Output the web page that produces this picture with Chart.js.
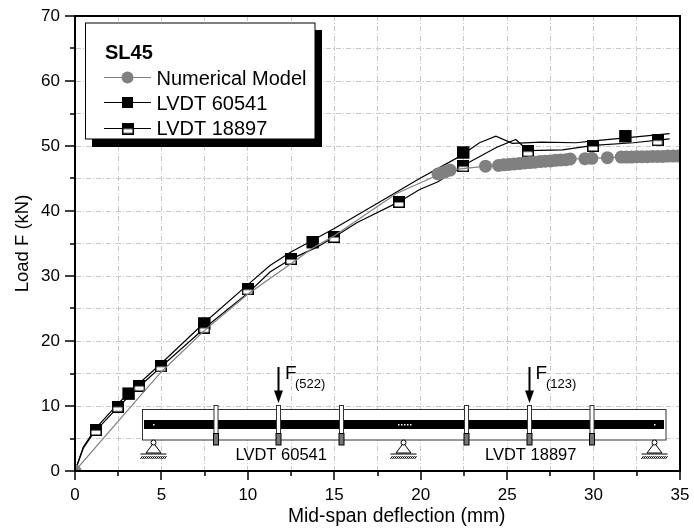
<!DOCTYPE html>
<html>
<head>
<meta charset="utf-8">
<title>SL45</title>
<script src="https://cdn.jsdelivr.net/npm/chart.js@4"></script>
<style>
    html, body { margin: 0; padding: 0; background: #fff; }
    canvas { display: block; }
</style>
</head>
<body>
<canvas id="chart" width="694" height="531"></canvas>
<script>
"use strict";
// Values
var numericalX = [0, 4.97, 7.48, 9.99, 12.49, 13.76, 15, 18.6, 20.7, 21, 21.2, 21.4, 21.7,
    23.75, 24.5, 24.8, 25.1, 25.4, 25.7, 26, 26.3, 26.6, 26.9, 27.2, 27.5, 27.8, 28.1, 28.4, 28.65,
    29.5, 29.9, 30.8, 31.6, 31.9, 32.2, 32.5, 32.8, 33.1, 33.4, 33.7, 34, 34.3, 34.6, 34.9];
var numericalY = [0, 15.2, 21.6, 27.2, 31.9, 34.3, 36.2, 42.7, 45.2, 45.7, 45.85, 46, 46.3,
    46.9, 47, 47.1, 47.15, 47.25, 47.3, 47.4, 47.45, 47.5, 47.6, 47.65, 47.7, 47.8, 47.85, 47.9, 48,
    48.05, 48.1, 48.2, 48.3, 48.3, 48.3, 48.35, 48.35, 48.35, 48.4, 48.4, 48.4, 48.45, 48.45, 48.45];

var upperLineX = [0, 0.48, 0.91, 1.21, 2.47, 3.1, 3.72, 4.97, 7.48, 10.1, 11.28, 12.49, 13.75, 15, 17.45, 19.94, 22.26, 23.4, 24.35, 25.3, 27, 29, 30, 32, 34.4];
var upperLineY = [0, 3.7, 5.4, 6.6, 10.3, 12, 13.5, 16.5, 22.8, 28.9, 31.6, 33.7, 35.5, 37.3, 41.1, 45, 48.4, 50.5, 51.5, 50.4, 50.6, 50.5, 50.8, 51.3, 51.9];
var lowerLineX = [0, 0.48, 0.91, 1.21, 2.47, 3.72, 4.97, 7.5, 10.1, 11.28, 12.49, 13.97, 15, 16.3, 18.74, 19.94, 21, 22.46, 24.4, 25.5, 26.2, 28.2, 30, 32.3, 34.4];
var lowerLineY = [0, 3.5, 5.2, 6.2, 9.8, 13, 16, 22, 27.6, 30.6, 32.6, 34.4, 36, 38.2, 41.4, 43.3, 44.5, 47, 49.8, 51, 49.3, 49.4, 50.1, 50.5, 51.1];

var filledX = [3.1, 7.48, 13.75, 22.46, 31.84];
var filledY = [11.9, 22.7, 35.2, 49, 51.5];
var halfX = [1.21, 2.47, 3.72, 4.97, 7.48, 9.99, 12.49, 15, 18.74, 22.46, 26.2, 29.97, 33.7];
var halfY = [6.3, 9.9, 13.1, 16.1, 22.05, 27.95, 32.6, 36, 41.4, 46.9, 49.2, 50, 50.9];

var legendTitle = "SL45";
var seriesNames = ["Numerical Model", "LVDT 60541", "LVDT 18897"];

var grey = "#808080";
var fontName = "'Liberation Sans', Arial, sans-serif";

function toPoints(xs, ys) {
    return xs.map(function (x, i) { return { x: x, y: ys[i] }; });
}

// half black / half white square marker
function halfSquare(size) {
    var c = document.createElement("canvas");
    c.width = size;
    c.height = size;
    var g = c.getContext("2d");
    g.fillStyle = "#000";
    g.fillRect(0, 0, size, size);
    g.fillStyle = "#fff";
    g.fillRect(1.5, size / 2 + 0.5, size - 3, size / 2 - 2);
    return c;
}
var halfMarker = halfSquare(12);

function text(ctx, str, x, y, font) {
    ctx.font = font;
    ctx.fillStyle = "#000";
    ctx.textAlign = "left";
    ctx.textBaseline = "alphabetic";
    ctx.fillText(str, x, y);
}

function drawTicks(ctx, chart) {
    var xs = chart.scales.x, ys = chart.scales.y, a = chart.chartArea;
    ctx.strokeStyle = "#000";
    ctx.lineWidth = 1.5;
    ctx.beginPath();
    xs.ticks.forEach(function (t) {
        var p = Math.round(xs.getPixelForValue(t.value));
        ctx.moveTo(p, a.bottom);
        ctx.lineTo(p, a.bottom + (t.value % 5 === 0 ? 9 : 5));
    });
    ys.ticks.forEach(function (t) {
        var p = Math.round(ys.getPixelForValue(t.value));
        ctx.moveTo(a.left, p);
        ctx.lineTo(a.left - (t.value % 10 === 0 ? 10 : 5), p);
    });
    ctx.stroke();
    // frame, top and right too
    ctx.lineWidth = 2;
    ctx.strokeRect(a.left, a.top, a.right - a.left, a.bottom - a.top);
}

function drawLegend(ctx) {
    ctx.fillStyle = "#000";
    ctx.fillRect(92, 30, 230, 117);
    ctx.fillStyle = "#fff";
    ctx.fillRect(85.5, 23, 229.5, 116);
    ctx.strokeStyle = "#000";
    ctx.lineWidth = 1;
    ctx.strokeRect(85.5, 23, 229.5, 116);
    text(ctx, legendTitle, 105, 59, "bold 20px " + fontName);
    var rowY = [77.5, 102.5, 128.5], baseY = [85, 110, 135];
    seriesNames.forEach(function (name, i) {
        ctx.strokeStyle = i === 0 ? grey : "#000";
        ctx.lineWidth = 1;
        ctx.beginPath();
        ctx.moveTo(104, rowY[i]);
        ctx.lineTo(151, rowY[i]);
        ctx.stroke();
        if (i === 0) {
            ctx.fillStyle = grey;
            ctx.beginPath();
            ctx.arc(127.5, rowY[i], 6, 0, Math.PI * 2);
            ctx.fill();
        } else if (i === 1) {
            ctx.fillStyle = "#000";
            ctx.fillRect(122, rowY[i] - 5.5, 11, 11);
        } else {
            ctx.drawImage(halfMarker, 122, rowY[i] - 6);
        }
        text(ctx, name, 156.5, baseY[i], "20px " + fontName);
    });
}

function drawSupport(ctx, x) {
    ctx.strokeStyle = "#000";
    ctx.lineWidth = 1;
    ctx.fillStyle = "#fff";
    ctx.beginPath();
    ctx.moveTo(x, 443);
    ctx.lineTo(x - 7.5, 453);
    ctx.lineTo(x + 7.5, 453);
    ctx.closePath();
    ctx.stroke();
    ctx.beginPath();
    ctx.arc(x, 442.5, 2.5, 0, Math.PI * 2);
    ctx.fill();
    ctx.stroke();
    ctx.beginPath();
    ctx.moveTo(x - 13, 454);
    ctx.lineTo(x + 13, 454);
    for (var h = x - 13; h < x + 13; h += 2) {
        ctx.moveTo(h + 2, 456);
        ctx.lineTo(h, 459);
    }
    ctx.stroke();
}

function drawArrow(ctx, x) {
    ctx.fillStyle = "#000";
    ctx.fillRect(x - 1, 367, 2, 25);
    ctx.beginPath();
    ctx.moveTo(x - 4.5, 390.5);
    ctx.lineTo(x + 4.5, 390.5);
    ctx.lineTo(x, 403);
    ctx.closePath();
    ctx.fill();
}

function drawBeam(ctx) {
    ctx.fillStyle = "#fff";
    ctx.fillRect(142, 409, 524, 31);
    ctx.strokeStyle = "#333";
    ctx.lineWidth = 1;
    ctx.strokeRect(142.5, 409.5, 523.5, 30.5);
    ctx.fillStyle = "#000";
    ctx.fillRect(144, 420, 520, 9);
    ctx.fillStyle = "#fff";
    [153, 398, 401, 404, 407, 410, 654].forEach(function (x) {
        ctx.fillRect(x, 424, 1.5, 1.5);
    });
    [216, 278.5, 341.5, 466.5, 529.5, 592].forEach(function (x) {
        ctx.fillStyle = "#fff";
        ctx.strokeStyle = "#333";
        ctx.fillRect(x - 2, 405.5, 4, 28);
        ctx.strokeRect(x - 2, 405.5, 4, 28);
        ctx.fillStyle = "#777";
        ctx.strokeStyle = "#000";
        ctx.fillRect(x - 2.5, 433.5, 5, 11.5);
        ctx.strokeRect(x - 2.5, 433.5, 5, 11.5);
    });
    [153.5, 403.5, 654.5].forEach(function (x) { drawSupport(ctx, x); });
    drawArrow(ctx, 278.5);
    drawArrow(ctx, 529.5);
    text(ctx, "F", 285, 379, "19px " + fontName);
    text(ctx, "(522)", 295, 388, "13px " + fontName);
    text(ctx, "F", 535.5, 379, "19px " + fontName);
    text(ctx, "(123)", 546, 388, "13px " + fontName);
    text(ctx, "LVDT 60541", 235.5, 460, "16.5px " + fontName);
    text(ctx, "LVDT 18897", 485, 460, "16.5px " + fontName);
}

var decorations = {
    id: "decorations",
    afterDatasetsDraw: function (chart) {
        var ctx = chart.ctx;
        ctx.save();
        drawBeam(ctx);
        drawTicks(ctx, chart);
        drawLegend(ctx);
        text(ctx, "Mid-span deflection (mm)", 288, 522, "19.3px " + fontName);
        ctx.restore();
    }
};

new Chart(document.getElementById("chart").getContext("2d"), {
    type: "line",
    data: {
        datasets: [
            {
                label: seriesNames[0],
                data: toPoints(numericalX, numericalY),
                borderColor: grey,
                backgroundColor: grey,
                borderWidth: 1.2,
                pointBorderWidth: 0,
                pointRadius: function (c) {
                    var x = c.parsed.x;
                    return x === 0 || x >= 21 ? 6.5 : 0;
                },
                order: 1
            },
            {
                label: seriesNames[2],
                data: toPoints(halfX, halfY),
                showLine: false,
                pointStyle: halfMarker,
                order: 2
            },
            {
                label: seriesNames[1],
                data: toPoints(filledX, filledY),
                showLine: false,
                backgroundColor: "#000",
                pointBorderWidth: 0,
                pointStyle: "rect",
                pointRadius: 8.8,
                order: 3
            },
            {
                label: seriesNames[1] + " curve",
                data: toPoints(upperLineX, upperLineY),
                borderColor: "#000",
                borderWidth: 1.2,
                pointRadius: 0,
                order: 4
            },
            {
                label: seriesNames[2] + " curve",
                data: toPoints(lowerLineX, lowerLineY),
                borderColor: "#000",
                borderWidth: 1.2,
                pointRadius: 0,
                order: 5
            }
        ]
    },
    options: {
        responsive: false,
        animation: false,
        layout: { padding: { top: 16, right: 14, left: 0, bottom: 0 } },
        plugins: { legend: { display: false }, tooltip: { enabled: false } },
        scales: {
            x: {
                type: "linear",
                min: 0,
                max: 35,
                afterFit: function (s) {
                    s.height = 60;
                    s.paddingLeft = 0;
                    s.paddingRight = 0;
                },
                border: { color: "#000", width: 2, dash: [5, 2, 1, 2] },
                grid: { color: "#c8c8c8", lineWidth: 1, drawTicks: false },
                ticks: {
                    stepSize: 2.5,
                    autoSkip: false,
                    maxRotation: 0,
                    padding: 14,
                    color: "#000",
                    font: { family: fontName, size: 17 },
                    callback: function (v) { return v % 5 === 0 ? String(v) : ""; }
                }
            },
            y: {
                type: "linear",
                min: 0,
                max: 70,
                afterFit: function (s) {
                    s.width = 75;
                    s.paddingTop = 0;
                    s.paddingBottom = 0;
                },
                border: { color: "#000", width: 2, dash: [5, 2, 1, 2] },
                grid: { color: "#c8c8c8", lineWidth: 1, drawTicks: false },
                title: {
                    display: true,
                    text: "Load F (kN)",
                    color: "#000",
                    font: { family: fontName, size: 18.5 },
                    padding: { top: 12, bottom: 0 }
                },
                ticks: {
                    stepSize: 5,
                    autoSkip: false,
                    padding: 15,
                    color: "#000",
                    font: { family: fontName, size: 17 },
                    callback: function (v) { return v % 10 === 0 ? String(v) : ""; }
                }
            }
        }
    },
    plugins: [decorations]
});
</script>
</body>
</html>
